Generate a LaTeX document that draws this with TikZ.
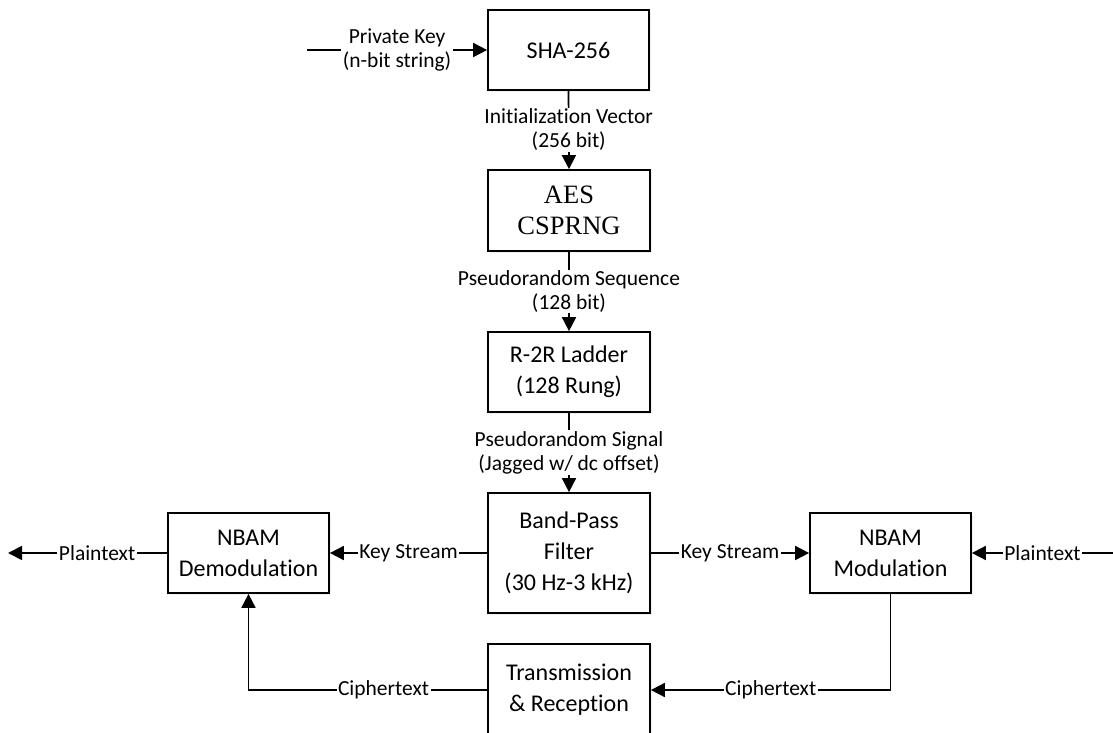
\documentclass[tikz,border=0pt]{standalone}
\usepackage{fontspec}
\setmainfont{Carlito}[Ligatures={NoCommon}]
\newfontfamily\serifaes{Liberation Serif}
\usetikzlibrary{arrows.meta,shadows}
\tikzset{
  box/.style={draw, line width=1.7pt, fill=white, align=center, inner sep=2pt,
    font=\fontsize{24pt}{31pt}\selectfont,
    drop shadow={opacity=0.12, shadow xshift=2pt, shadow yshift=-2pt}},
  lbl/.style={fill=white, inner xsep=1.5pt, inner ysep=1pt, align=center,
    font=\fontsize{21.5pt}{24pt}\selectfont},
  conn/.style={line width=1.7pt},
  arr/.style={conn, -{Triangle[length=14pt,width=14pt]}}
}
\begin{document}
\begin{tikzpicture}[x=1pt,y=-1pt]
\useasboundingbox (0,0) rectangle (1113,733);
% boxes
\node[box, minimum width=161pt, minimum height=80pt] (sha) at (568.5,50) {SHA-256};
\node[box, minimum width=162pt, minimum height=81pt, font=\serifaes\fontsize{26.5pt}{31pt}\selectfont] (aes) at (569,210.5) {AES\\CSPRNG};
\node[box, minimum width=162pt, minimum height=80pt] (r2r) at (569,372) {R-2R Ladder\\(128 Rung)};
\node[box, minimum width=162pt, minimum height=120pt] (bpf) at (569,553) {Band-Pass\\Filter\\(30 Hz-3 kHz)};
\node[box, minimum width=162pt, minimum height=92pt] (tr) at (569,690) {Transmission\\\& Reception};
\node[box, minimum width=161pt, minimum height=80pt] (dem) at (248.5,553) {NBAM\\Demodulation};
\node[box, minimum width=161pt, minimum height=80pt] (mod) at (890.5,553) {NBAM\\Modulation};
% free ends
\coordinate (pk) at (307,50);
\coordinate (ptl) at (8,553);
\coordinate (ptr) at (1113,553);
% connectors
\draw[arr] (pk) -- node[lbl]{Private Key\\(n-bit string)} (sha.west);
\draw[arr] (sha.south) -- node[lbl]{Initialization Vector\\(256 bit)} (aes.north);
\draw[arr] (aes.south) -- node[lbl]{Pseudorandom Sequence\\(128 bit)} (r2r.north);
\draw[arr] (r2r.south) -- node[lbl]{Pseudorandom Signal\\(Jagged w/ dc offset)} (bpf.north);
\draw[arr] (bpf.west) -- node[lbl]{Key Stream} (dem.east);
\draw[arr] (bpf.east) -- node[lbl]{Key Stream} (mod.west);
\draw[arr] (dem.west) -- node[lbl, pos=0.44]{Plaintext} (ptl);
\draw[arr] (ptr) -- node[lbl]{Plaintext} (mod.east);
\draw[arr] (mod.south) |- node[lbl, pos=0.75]{Ciphertext} (tr.east);
\draw[arr] (tr.west) -| node[lbl, pos=0.217]{Ciphertext} (dem.south);
\end{tikzpicture}
\end{document}
